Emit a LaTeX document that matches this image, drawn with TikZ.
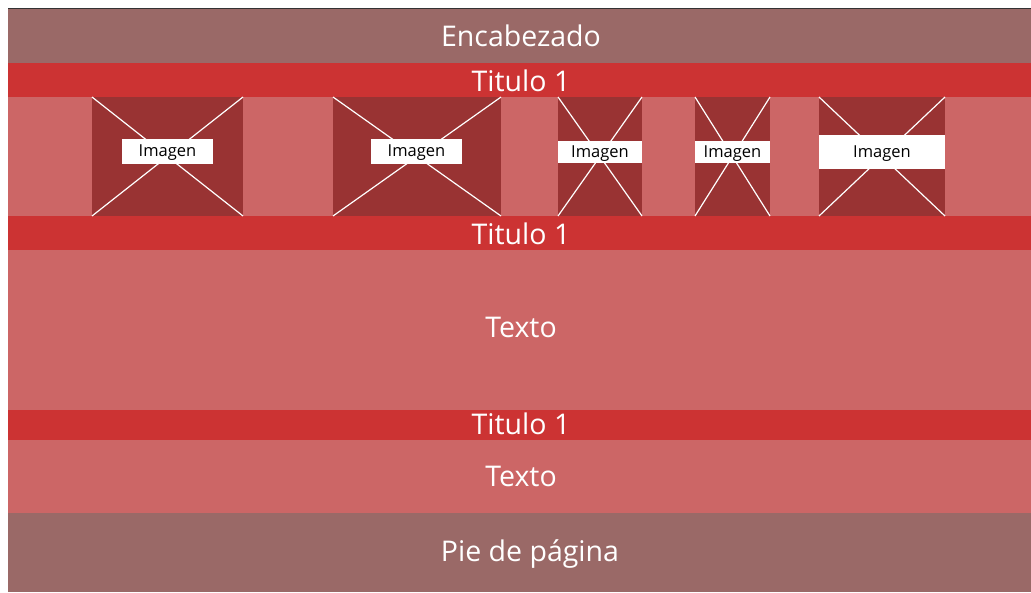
\documentclass[tikz,border=0pt]{standalone}
\usepackage{fontspec}
\setmainfont{Open Sans}
\definecolor{headc}{HTML}{9A6967}
\definecolor{titc}{HTML}{CC3333}
\definecolor{bodyc}{HTML}{CC6666}
\definecolor{imgc}{HTML}{993333}
\definecolor{linec}{HTML}{333333}
\begin{document}
\begin{tikzpicture}[x=1pt,y=-1pt,
  band/.style={inner sep=0pt, outer sep=0pt, text=white, font=\fontsize{28.5}{32}\selectfont},
  cross/.style={draw=white, line width=1.2pt},
  lbl/.style={fill=white, text=black, inner sep=0pt, font=\fontsize{16.5}{19}\selectfont}]
\useasboundingbox (0,0) rectangle (1031,592);
\fill[white] (0,0) rectangle (1031,592);
% bands
\fill[headc] (8,8) rectangle (1031,63);
\fill[titc] (8,63) rectangle (1031,97);
\fill[bodyc] (8,97) rectangle (1031,216);
\fill[titc] (8,216) rectangle (1031,250);
\fill[bodyc] (8,250) rectangle (1031,410);
\fill[titc] (8,410) rectangle (1031,440);
\fill[bodyc] (8,440) rectangle (1031,513);
\fill[headc] (8,513) rectangle (1031,592);
\draw[linec, line width=1pt] (8,8) -- (1031,8);
% texts
\node[band] (enc) at (521,36) {Encabezado};
\node[band] (t1) at (521,81) {Titulo 1};
\node[band] (t2) at (521,234) {Titulo 1};
\node[band] (tx1) at (521,327) {Texto};
\node[band] (t3) at (521,424) {Titulo 1};
\node[band] (tx2) at (521,476) {Texto};
\node[band] (pie) at (530,554) {Pie de página};
% images
\foreach \i/\xa/\xb/\la/\lb/\ya/\yb in {1/92/243/122/213/139/164, 2/333/501/371/462/139/164, 3/558/642/558/642/141/163, 4/695/770/695/770/141/163, 5/819/945/819/945/135/169}{
  \fill[imgc] (\xa,97) rectangle (\xb,216);
  \draw[cross] (\xa,97) -- (\xb,216);
  \draw[cross] (\xb,97) -- (\xa,216);
  \fill[white] (\la,\ya) rectangle (\lb,\yb);
  \node[lbl] (img\i) at ({(\la+\lb)/2},{(\ya+\yb)/2+1.5}) {Imagen};
}
\end{tikzpicture}
\end{document}
